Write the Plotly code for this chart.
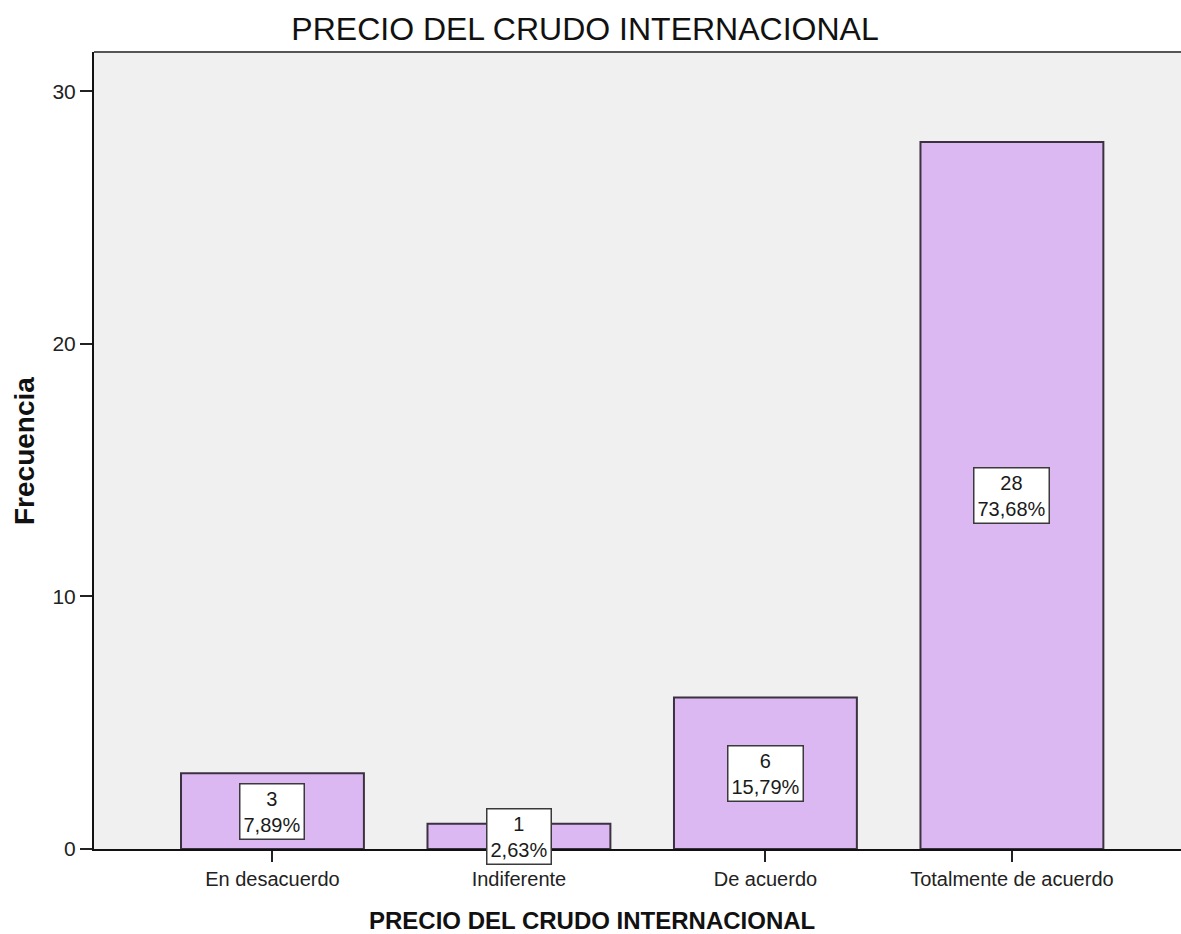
import plotly.graph_objects as go

# Survey responses about the international crude oil price
categories = ["En desacuerdo", "Indiferente", "De acuerdo", "Totalmente de acuerdo"]
counts = [3, 1, 6, 28]
y_ticks = [0, 10, 20, 30]

total = sum(counts)
labels = [f"{c}<br>{c / total * 100:.2f}%".replace(".", ",") for c in counts]

FONT = "Liberation Sans, Arial, sans-serif"

# Plot-area geometry in pixels (for placing the paper-referenced titles)
W, H = 1181, 934
M_L, M_R, M_T, M_B = 94, 0, 52, 85
PLOT_W = W - M_L - M_R
PLOT_H = H - M_T - M_B

fig = go.Figure()
fig.add_trace(go.Bar(
    x=categories,
    y=counts,
    width=0.742,
    marker=dict(color="#dcb8f2", line=dict(color="#3b3140", width=2)),
    hoverinfo="x+y",
))

# Count / percentage boxes centred on each bar
for cat, c, lab in zip(categories, counts, labels):
    fig.add_annotation(
        x=cat, y=c / 2, xref="x", yref="y",
        text=lab, showarrow=False,
        font=dict(family=FONT, size=20, color="#1a1a1a"),
        bgcolor="white", bordercolor="#3a3a3a", borderwidth=1.5, borderpad=3,
        align="center",
    )

# Axis titles
fig.add_annotation(
    x=(592 - M_L) / PLOT_W, y=-(920 - (H - M_B)) / PLOT_H,
    xref="paper", yref="paper", xanchor="center", yanchor="middle",
    text="<b>PRECIO DEL CRUDO INTERNACIONAL</b>", showarrow=False,
    font=dict(family=FONT, size=24, color="#111"),
)
fig.add_annotation(
    x=(24 - M_L) / PLOT_W, y=(H - M_B - 451) / PLOT_H,
    xref="paper", yref="paper", xanchor="center", yanchor="middle",
    text="<b>Frecuencia</b>", textangle=-90, showarrow=False,
    font=dict(family=FONT, size=28, color="#111"),
)

# Top frame line of the plotting area
fig.add_shape(type="line", xref="paper", yref="paper", x0=0, x1=1, y0=1, y1=1,
              line=dict(color="#555555", width=2))

fig.update_layout(
    width=W, height=H,
    margin=dict(l=M_L, r=M_R, t=M_T, b=M_B),
    paper_bgcolor="white",
    plot_bgcolor="#f0f0f0",
    showlegend=False,
    title=dict(
        text="PRECIO DEL CRUDO INTERNACIONAL",
        x=585 / W, xref="container", xanchor="center",
        y=1 - 29 / H, yref="container", yanchor="middle",
        font=dict(family=FONT, size=32, color="#111"),
    ),
    xaxis=dict(
        type="category",
        range=[-0.724, 3.686],
        showgrid=False, zeroline=False,
        showline=True, linecolor="#111", linewidth=2,
        ticks="outside", ticklen=11, tickwidth=1.5, tickcolor="#222",
        tickfont=dict(family=FONT, size=20, color="#222"),
    ),
    yaxis=dict(
        range=[0, 31.56],
        tickvals=y_ticks,
        showgrid=False, zeroline=False,
        showline=True, linecolor="#111", linewidth=2,
        ticks="outside", ticklen=12, tickwidth=1.5, tickcolor="#222",
        tickfont=dict(family=FONT, size=21, color="#222"),
    ),
)

fig.write_html("out.html")
